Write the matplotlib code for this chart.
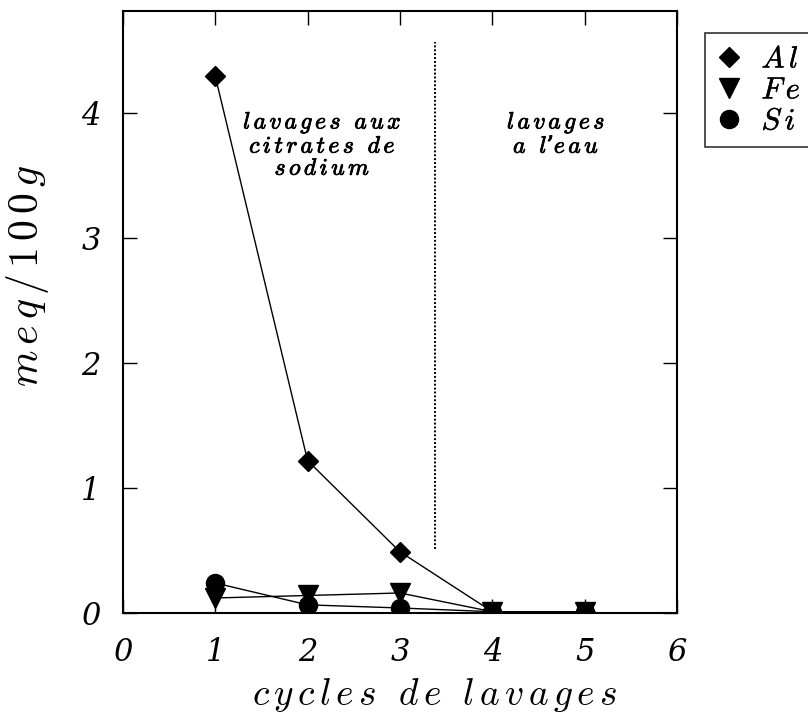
import matplotlib
matplotlib.use("Agg")
import matplotlib.pyplot as plt
import matplotlib.patheffects as pe

plt.rcParams['mathtext.fontset'] = 'cm'
plt.rcParams['font.family'] = 'serif'
plt.rcParams['font.serif'] = ['DejaVu Serif']

# cycles and concentrations (meq/100g)
cycles = [1, 2, 3, 4, 5]
al = [4.30, 1.22, 0.49, 0.01, 0.01]
fe = [0.12, 0.14, 0.16, 0.01, 0.01]
si = [0.24, 0.065, 0.04, 0.01, 0.01]

x_ticks = [0, 1, 2, 3, 4, 5, 6]
y_ticks = [0, 1, 2, 3, 4]
split_x = 3.38          # boundary citrate / water washes
split_y = [0.51, 4.57]


def spaced(s):
    # letter-spaced italic text in computer modern
    words = [r'\,'.join(w) for w in s.split(' ')]
    return r'$\mathit{' + r'\ \ '.join(words) + '}$'


heavy = [pe.withStroke(linewidth=0.6, foreground='black')]
light = [pe.withStroke(linewidth=0.3, foreground='black')]

fig = plt.figure(figsize=(8.08, 7.15), dpi=100)
ax = fig.add_axes([0.152, 0.1427, 0.686, 0.842])

ax.plot(cycles, al, color='black', lw=1.0, marker='D', ms=10, label=spaced('Al'), zorder=3)
ax.plot(cycles, fe, color='black', lw=1.0, marker='v', ms=14, label=spaced('Fe'), zorder=3)
ax.plot(cycles, si, color='black', lw=1.0, marker='o', ms=13, label=spaced('Si'), zorder=3)

ax.plot([split_x, split_x], split_y, color='black', lw=1.4, linestyle=(0, (1, 1)))

ax.text(2.16, 4.03, spaced('lavages aux') + '\n' + spaced('citrates de') + '\n' + spaced('sodium'),
        ha='center', va='top', fontsize=17, linespacing=0.95, path_effects=heavy)
ax.text(4.69, 4.03, spaced('lavages') + '\n' + r"$\mathit{a\ \ l}$" + '\u2019' + r"$\mathit{e\,a\,u}$",
        ha='center', va='top', fontsize=17, linespacing=0.95, path_effects=heavy)

ax.set_xlim(0, 6)
ax.set_ylim(0, 4.82)
ax.set_xticks(x_ticks)
ax.set_yticks(y_ticks)
ax.set_xticklabels([str(t) for t in x_ticks], fontstyle='italic')
ax.set_yticklabels([str(t) for t in y_ticks], fontstyle='italic')
ax.tick_params(direction='in', length=10, width=1, top=True, right=True,
               labelsize=22)
ax.tick_params(axis='x', pad=17)
ax.tick_params(axis='y', pad=16)

ax.set_xlabel(spaced('cycles de lavages'), fontsize=27)
ax.set_ylabel(spaced('meq/100g'), fontsize=30)
ax.xaxis.set_label_coords(0.563, -0.105)
ax.yaxis.set_label_coords(-0.13, 0.56)

for s in ax.spines.values():
    s.set_linewidth(1.5)

leg = fig.legend(loc='upper left', bbox_to_anchor=(0.8725, 0.954), borderaxespad=0,
                 frameon=True, fontsize=22, handlelength=0.9, handletextpad=0.6,
                 labelspacing=0.0, borderpad=0.35, fancybox=False,
                 edgecolor='black', markerscale=1.0)
leg.get_frame().set_linewidth(1.2)
for h in leg.legend_handles:
    h.set_linestyle('none')
for t in leg.get_texts():
    t.set_path_effects(light)

fig.savefig('out.png', dpi=100)
